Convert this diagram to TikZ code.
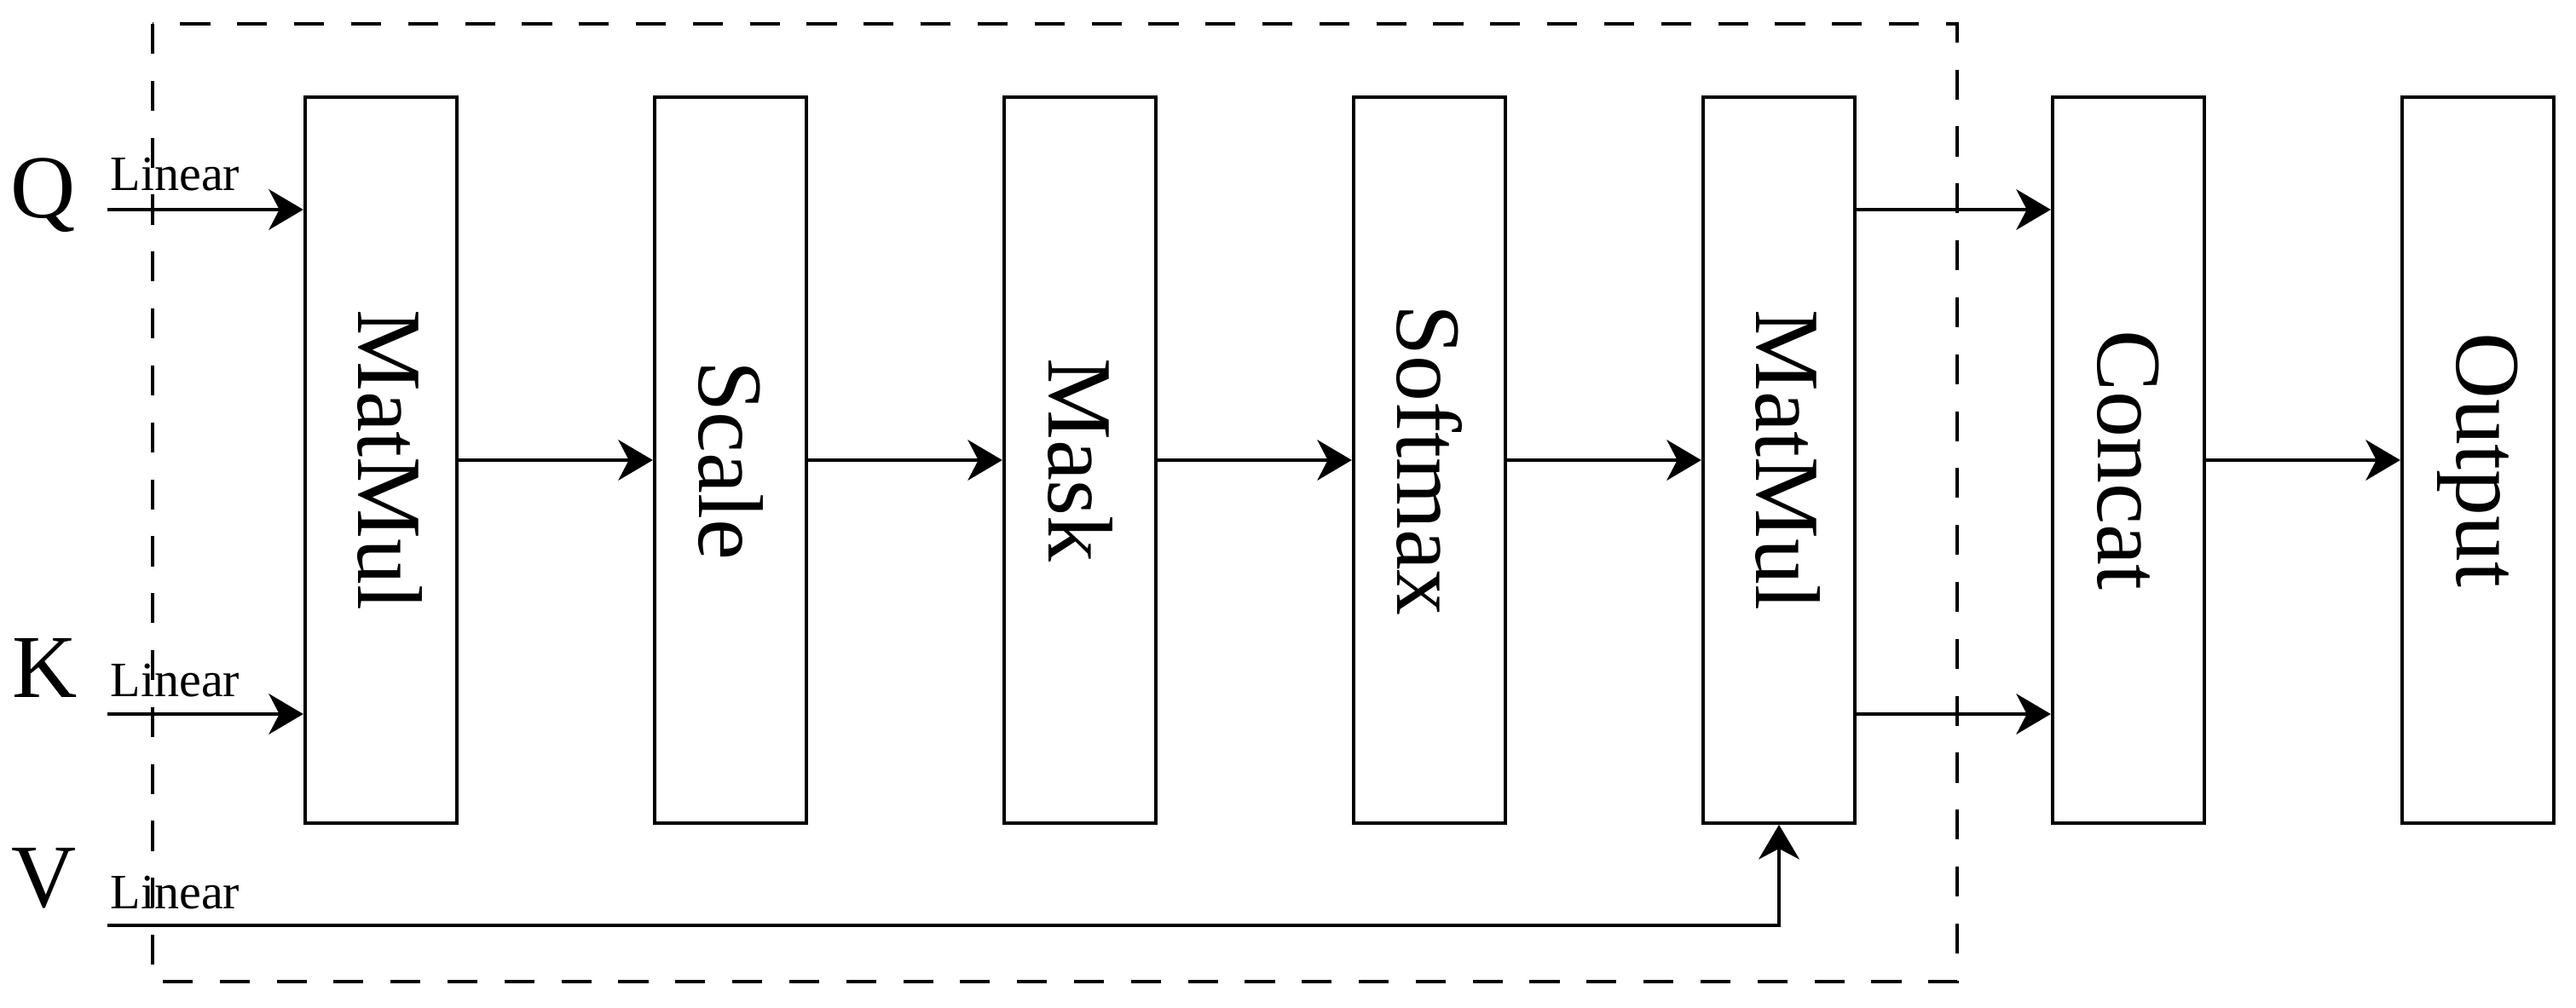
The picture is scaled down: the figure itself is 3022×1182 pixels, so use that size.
\documentclass[tikz,border=0pt]{standalone}
\usepackage{fontspec}
\setmainfont{Liberation Serif}
\usetikzlibrary{arrows.meta}
\tikzset{
  blk/.style={draw, line width=1.2pt, minimum width=1.78cm, minimum height=8.51cm, inner sep=0pt, font=\fontsize{30.7}{36}\selectfont},
  inp/.style={font=\fontsize{30}{36}\selectfont, anchor=base, inner sep=0pt},
  lin/.style={font=\fontsize{16.5}{20}\selectfont, anchor=base west, inner sep=0pt},
  arr/.style={-{Stealth[length=11.5pt,width=13.5pt,inset=3.5pt]}, line width=1.4pt},
  dashbox/.style={draw, line width=1.3pt, dash pattern=on 10pt off 9pt}
}
\begin{document}
\begin{tikzpicture}[x=0.01cm,y=-0.01cm]
\useasboundingbox (0,0) rectangle (3022,1182);
% dashed frame
\draw[dashbox] (179,28) rectangle (2296,1152);
% blocks
\node[blk] (mm1) at (447,540) {\hspace*{0.2cm}\rotatebox{-90}{MatMul}};
\node[blk] (sc)  at (857,540) {\rotatebox{-90}{Scale}};
\node[blk] (mk)  at (1267,540) {\rotatebox{-90}{Mask}};
\node[blk] (sm)  at (1677,540) {\rotatebox{-90}{Softmax}};
\node[blk] (mm2) at (2087,540) {\hspace*{0.2cm}\rotatebox{-90}{MatMul}};
\node[blk] (cat) at (2497,540) {\rotatebox{-90}{Concat}};
\node[blk] (out) at (2907,540) {\rotatebox{-90}{Output}};
% inputs
\node[inp] (q) at (51,255) {Q};
\node[inp] (k) at (53,818) {K};
\node[inp] (v) at (52,1064) {V};
\node[lin] (lq) at (129,223) {Linear};
\node[lin] (lk) at (129,817) {Linear};
\node[lin] (lv) at (129,1066) {Linear};
\coordinate (qs) at (126,246);
\coordinate (ks) at (126,838);
\coordinate (vs) at (126,1086);
% connectors
\draw[arr] (qs) -- (mm1.west |- qs);
\draw[arr] (ks) -- (mm1.west |- ks);
\draw[arr] (vs) -| (mm2.south);
\draw[arr] (mm1) -- (sc);
\draw[arr] (sc) -- (mk);
\draw[arr] (mk) -- (sm);
\draw[arr] (sm) -- (mm2);
\draw[arr] (mm2.east |- qs) -- (cat.west |- qs);
\draw[arr] (mm2.east |- ks) -- (cat.west |- ks);
\draw[arr] (cat) -- (out);
\end{tikzpicture}
\end{document}
